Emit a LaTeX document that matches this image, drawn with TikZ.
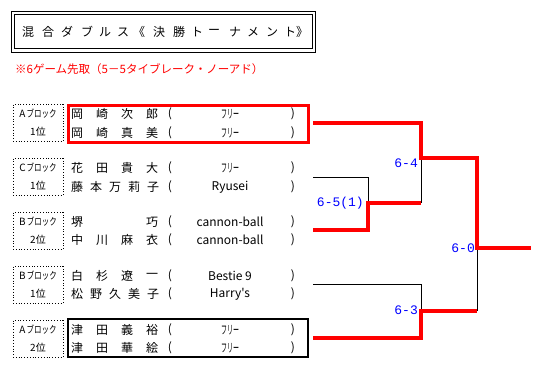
\documentclass[tikz,border=0pt]{standalone}
\usepackage{fontspec}
\newfontfamily\jpn{Noto Sans CJK JP}
\newfontfamily\monofont{Liberation Mono}
\newcommand\hwk[1]{\scalebox{0.5}[1]{#1}}
\begin{document}
\begin{tikzpicture}[x=1pt,y=-1pt,
  jp/.style={inner sep=0pt, font=\jpn\fontsize{12}{12}\selectfont},
  small/.style={inner sep=0pt, font=\jpn\fontsize{10}{10}\selectfont},
  lbl/.style={draw, dotted, line width=0.8pt, minimum width=50pt, minimum height=37pt, inner sep=0pt},
  win/.style={red, line width=3.2pt},
  thinline/.style={black, line width=0.8pt},
  score/.style={blue, font=\monofont\fontsize{13}{13}\selectfont, inner sep=0pt, anchor=east}]
\useasboundingbox (0,0) rectangle (553,369);
% title
\draw[line width=1pt] (11,12) rectangle (315,52);
\draw[line width=1pt] (14,15) rectangle (312,49);
\foreach \c/\x [count=\i] in {混/28,合/48,ダ/67,ブ/87,ル/105,ス/123,《/139,決/159,勝/179,ト/197,ー/214,ナ/235,メ/253,ン/272,ト/290,》/302}
  {\node[jp] (t\i) at (\x,32) {\c};}
\node[red, anchor=west, inner sep=0pt, font=\jpn\fontsize{11.5}{12}\selectfont] (sub) at (15,69) {※6ゲーム先取（5－5タイブレーク・ノーアド）};
% block labels
\foreach \b/\t/\k/\p in {1/104/A/1,2/158/C/1,3/212/B/2,4/266/B/1,5/320/A/2}{
  \node[lbl, anchor=north] (lb\b) at (38,\t) {};
  \node[small] (lk\b) at (38,\t+10) {\k\hspace{1pt}\scalebox{0.75}[1]{ブロック}};
  \node[small] (lr\b) at (38,\t+28) {\p 位};
}
% names
\foreach \r/\y/\nm/\pt in {
  1/114/{岡/77,崎/102,次/127,郎/152}/\hwk{フリー},
  2/133/{岡/77,崎/102,真/127,美/152}/\hwk{フリー},
  3/168/{花/77,田/102,貴/127,大/152}/\hwk{フリー},
  4/187/{藤/77,本/96,万/115,莉/134,子/153}/Ryusei,
  5/222/{堺/77,巧/152}/cannon-ball,
  6/240/{中/77,川/102,麻/127,衣/152}/cannon-ball,
  7/276/{白/77,杉/102,遼/127,一/152}/Bestie 9,
  8/294/{松/77,野/96,久/115,美/134,子/153}/Harry's,
  9/330/{津/77,田/102,義/127,裕/152}/\hwk{フリー},
  10/348/{津/77,田/102,華/127,絵/152}/\hwk{フリー}}{
  \foreach \c/\x [count=\i] in \nm {\node[jp] (n\r-\i) at (\x,\y) {\c};}
  \node[jp] (lp\r) at (170,\y) {(};
  \node[jp] (p\r) at (230,\y) {\pt};
  \node[jp] (rp\r) at (293,\y) {)};
}
\draw[red, line width=3pt] (68,105) rectangle (308,142);
\draw[line width=2pt] (68,319) rectangle (308,357);
% bracket
\coordinate (e1) at (313,123);
\coordinate (e2) at (313,177);
\coordinate (e3) at (313,230);
\coordinate (e4) at (313,284);
\coordinate (e5) at (313,338);
\coordinate (m23) at (368,203);
\coordinate (j1) at (421,158);
\coordinate (s2) at (421,203);
\coordinate (j45) at (421,311);
\coordinate (f) at (477,248);
\coordinate (s3) at (477,311);
\coordinate (champ) at (531,248);
\draw[thinline] (e2) -| (m23);
\draw[thinline] (j1) -- (s2);
\draw[thinline] (e4) -| (j45);
\draw[thinline] (f) -- (s3);
\draw[win] (e3) -| (m23) -- (s2);
\draw[win] (e1) -| (j1) -| (f) -- (champ);
\draw[win] (e5) -| (j45) -- (s3);
\node[score] (sc1) at (418,163) {6-4};
\node[score] (sc2) at (364,203) {6-5(1)};
\node[score] (sc3) at (475,248) {6-0};
\node[score] (sc4) at (418,310) {6-3};
\end{tikzpicture}
\end{document}
